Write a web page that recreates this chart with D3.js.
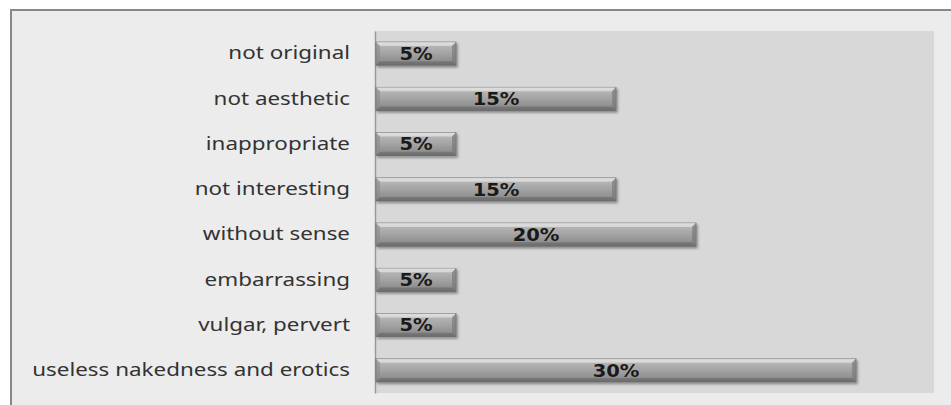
<!DOCTYPE html>
<html>
<head>
<meta charset="utf-8">
<script src="https://cdn.jsdelivr.net/npm/d3@7/dist/d3.min.js"></script>
<style>
  html, body { margin: 0; padding: 0; background: #ffffff; }
  svg { display: block; }
</style>
</head>
<body>
<svg id="chart" width="951" height="405"></svg>
<script>
// Reasons given for a negative opinion (share of respondents, %)
const categories = [
  "not original",
  "not aesthetic",
  "inappropriate",
  "not interesting",
  "without sense",
  "embarrassing",
  "vulgar, pervert",
  "useless nakedness and erotics"
];
const values = [5, 15, 5, 15, 20, 5, 5, 30];
const valueLabels = ["5%", "15%", "5%", "15%", "20%", "5%", "5%", "30%"];

const svg = d3.select("#chart");
const W = 951, H = 405;

// chart frame (outer panel)
const frame = { x: 11, y: 10 };
const plot = { left: 375, right: 934, top: 31, bottom: 393 };

const defs = svg.append("defs");
const grad = defs.append("linearGradient")
  .attr("id", "barFill").attr("x1", 0).attr("y1", 0).attr("x2", 0).attr("y2", 1);
[["0%", "#d6d6d6"], ["18%", "#b4b4b4"], ["50%", "#a3a3a3"], ["82%", "#8f8f8f"], ["100%", "#6e6e6e"]]
  .forEach(([o, c]) => grad.append("stop").attr("offset", o).attr("stop-color", c));

const shadow = defs.append("filter").attr("id", "barShadow")
  .attr("x", "-5%").attr("y", "-20%").attr("width", "115%").attr("height", "160%");
shadow.append("feDropShadow").attr("dx", 1.5).attr("dy", 2).attr("stdDeviation", 1.2)
  .attr("flood-color", "#000").attr("flood-opacity", 0.35);

// outer panel: border on top and left, runs off the right and bottom edges
svg.append("rect")
  .attr("x", frame.x).attr("y", frame.y)
  .attr("width", W - frame.x + 5).attr("height", H - frame.y + 5)
  .attr("fill", "#ececec").attr("stroke", "#888888").attr("stroke-width", 2);

// plot area
svg.append("rect")
  .attr("x", plot.left).attr("y", plot.top)
  .attr("width", plot.right - plot.left).attr("height", plot.bottom - plot.top)
  .attr("fill", "#d8d8d8");

const x = d3.scaleLinear().domain([0, 35]).range([plot.left + 1, plot.left + 1 + 560]);
const y = d3.scaleBand().domain(categories).range([plot.top, plot.bottom]).paddingInner(0.49).paddingOuter(0.245);

// category axis; labels are set in a wide, horizontally stretched face
const labelStretch = 1.245;
const labelGap = 25;
const yAxis = d3.axisLeft(y).tickSize(0).tickPadding(labelGap);
const gy = svg.append("g").attr("transform", `translate(${plot.left},0)`).call(yAxis);
gy.select(".domain").attr("stroke", "#9a9a9a").attr("stroke-width", 1.5);
gy.selectAll(".tick text")
  .attr("font-family", "'Noto Sans', 'Open Sans', sans-serif")
  .attr("font-size", 18).attr("fill", "#333333")
  .attr("x", -labelGap / labelStretch)
  .attr("transform", `scale(${labelStretch},1)`);

// bars
const bars = svg.append("g").selectAll("g.bar")
  .data(categories.map((c, i) => ({ c, v: values[i], label: valueLabels[i] })))
  .join("g").attr("class", "bar");

bars.append("rect")
  .attr("x", x(0)).attr("y", d => y(d.c))
  .attr("width", d => x(d.v) - x(0)).attr("height", y.bandwidth())
  .attr("fill", "url(#barFill)").attr("stroke", "#6a6a6a").attr("stroke-width", 0.8)
  .attr("filter", "url(#barShadow)");

// bevel highlights along the top edge and the ends
const bev = 4;
bars.append("path")
  .attr("d", d => {
    const x0 = x(0), x1 = x(d.v), y0 = y(d.c);
    return `M${x0},${y0} L${x1},${y0} L${x1 - bev},${y0 + bev} L${x0 + bev},${y0 + bev} Z`;
  })
  .attr("fill", "#e2e2e2").attr("opacity", 0.7);
bars.append("path")
  .attr("d", d => {
    const x0 = x(0), x1 = x(d.v), y0 = y(d.c), y1 = y0 + y.bandwidth();
    return `M${x0},${y1} L${x1},${y1} L${x1 - bev},${y1 - bev} L${x0 + bev},${y1 - bev} Z`;
  })
  .attr("fill", "#6a6a6a").attr("opacity", 0.6);
bars.append("path")
  .attr("d", d => {
    const x1 = x(d.v), y0 = y(d.c), y1 = y0 + y.bandwidth();
    return `M${x1},${y0} L${x1},${y1} L${x1 - bev},${y1 - bev} L${x1 - bev},${y0 + bev} Z`;
  })
  .attr("fill", "#7a7a7a").attr("opacity", 0.7);
bars.append("path")
  .attr("d", d => {
    const x0 = x(0), y0 = y(d.c), y1 = y0 + y.bandwidth();
    return `M${x0},${y0} L${x0},${y1} L${x0 + bev},${y1 - bev} L${x0 + bev},${y0 + bev} Z`;
  })
  .attr("fill", "#8a8a8a").attr("opacity", 0.6);

// value labels, centred on each bar
const valueStretch = 1.15;
bars.append("text")
  .attr("transform", d => `translate(${(x(0) + x(d.v)) / 2},${y(d.c) + y.bandwidth() / 2}) scale(${valueStretch},1)`)
  .attr("dy", "0.36em")
  .attr("text-anchor", "middle")
  .attr("font-family", "'DejaVu Sans', Verdana, sans-serif")
  .attr("font-weight", "bold").attr("font-size", 17)
  .attr("fill", "#1a1a1a")
  .text(d => d.label);
</script>
</body>
</html>
